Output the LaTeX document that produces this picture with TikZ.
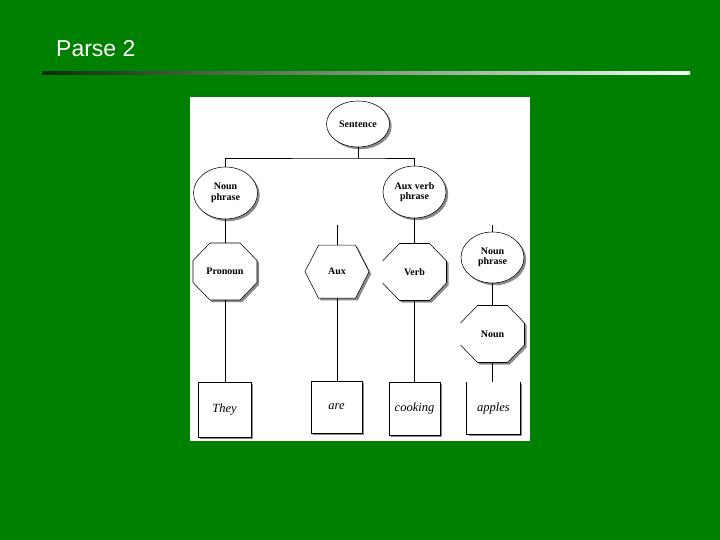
\documentclass[tikz,border=0pt]{standalone}
\usepackage{fontspec}
\setmainfont{Liberation Serif}
\newfontfamily\titlefont{Liberation Sans}
\usetikzlibrary{calc,shapes.geometric,shadows}
\definecolor{slidegreen}{HTML}{008000}
\definecolor{shadowgray}{HTML}{8A8A8A}
\definecolor{ruleleft}{HTML}{0A2E0A}
\definecolor{rulemid}{HTML}{7FA87F}
\definecolor{ruleright}{HTML}{F2FFF2}
\newcommand\octapath{(-15,-28.5) -- (15,-28.5) -- (32,-11) -- (32,11) -- (15,28.5) -- (-15,28.5) -- (-32,11) -- (-32,-11) -- cycle}
\newcommand\octaopen{(-32,-11) -- (-15,-28.5) -- (15,-28.5) -- (32,-11) -- (32,11) -- (15,28.5) -- (-15,28.5) -- (-32,11)}
\newcommand\hexapath{(-18.5,-26.5) -- (18.5,-26.5) -- (32,0) -- (18.5,26.5) -- (-18.5,26.5) -- (-32,0) -- cycle}
\begin{document}
\begin{tikzpicture}[x=1pt,y=-1pt]
\tikzset{
  lbl/.style={font=\bfseries\fontsize{10}{10.5}\selectfont, align=center, inner sep=0pt},
  shad/.style={drop shadow={shadow xshift=2.2pt, shadow yshift=-2.2pt, fill=shadowgray, opacity=1}},
  phr/.style={ellipse, draw, line width=0.55pt, fill=white, minimum width=63pt, minimum height=51pt, lbl, shad},
  slot/.style={minimum width=64pt, minimum height=57pt, lbl},
  leaf/.style={rectangle, line width=0.55pt, fill=white, minimum width=52pt, minimum height=53pt, inner sep=0pt, font=\itshape\fontsize{12.5}{14}\selectfont, shad},
  conn/.style={draw, line width=0.6pt},
  outline/.style={line width=0.55pt},
}
\useasboundingbox (0,0) rectangle (720,540);
\fill[slidegreen] (0,0) rectangle (720,540);
% title
\node[anchor=base west, text=white, inner sep=0pt, font=\titlefont\fontsize{23}{27}\selectfont] (title) at (56,57) {Parse 2};
\shade[left color=ruleleft, middle color=rulemid, right color=ruleright] (42,71.5) rectangle (690,74.5);
% panel
\fill[white] (190,97) rectangle (530,441);

% phrase ellipses
\node[phr, minimum height=46pt] (sent) at (358,124) {Sentence};
\node[phr, minimum width=64pt, minimum height=52pt] (np1) at (225.5,193) {Noun\\phrase};
\node[phr, minimum height=52pt] (avp) at (414.5,192) {Aux verb\\phrase};
\node[phr] (np2) at (492.5,257.5) {Noun\\phrase};

% octagon / hexagon shapes
\fill[shadowgray, shift={(227.2,273.7)}] \octapath;
\filldraw[outline, fill=white, shift={(225,271.5)}] \octapath;
\fill[shadowgray, shift={(339.2,273.9)}] \hexapath;
\filldraw[outline, fill=white, shift={(337,271.7)}] \hexapath;
\fill[shadowgray, shift={(416.7,274.2)}] \octapath;
\fill[white, shift={(414.5,272)}] \octapath;
\draw[outline, shift={(414.5,272)}] \octaopen;
\fill[shadowgray, shift={(494.7,336.2)}] \octapath;
\fill[white, shift={(492.5,334)}] \octapath;
\draw[outline, shift={(492.5,334)}] \octaopen;

\node[slot] (pron) at (225,271.5) {Pronoun};
\node[slot, minimum height=53pt] (aux) at (337,271.7) {Aux};
\node[slot] (verb) at (414.5,272) {Verb};
\node[slot] (noun) at (492.5,334) {Noun};

% leaves
\node[leaf, draw, minimum width=53pt, minimum height=55pt] (they) at (224.5,409.5) {They};
\node[leaf, draw, minimum width=51pt, minimum height=52pt] (are) at (336.5,407) {are};
\node[leaf, draw, minimum width=51pt, minimum height=53pt] (cook) at (414.5,408.5) {cooking};
\node[leaf, minimum width=53pt, minimum height=52pt] (apl) at (493.5,408) {apples};
\draw[outline] (apl.north west) -- (apl.south west) -- (apl.south east) -- (apl.north east);

% connectors
\coordinate (bar) at (358,158);
\coordinate (auxtop) at (337,225);
\coordinate (nptop) at (492.5,225);
\draw[conn] (sent.south) -- (bar);
\draw[conn] (np1.north) |- (bar) -| (avp.north);
\draw[conn] (np1.south) -- (np1.south |- pron.north);
\draw[conn] (avp.south) -- (avp.south |- verb.north);
\draw[conn] (auxtop) -- (aux.north);
\draw[conn] (nptop) -- (np2.north);
\draw[conn] (np2.south) -- (noun.north);
\draw[conn] (pron.south) -- (pron.south |- they.north);
\draw[conn] (aux.south) -- (aux.south |- are.north);
\draw[conn] (verb.south) -- (verb.south |- cook.north);
\draw[conn] (noun.south) -- (noun.south |- apl.north);
\end{tikzpicture}
\end{document}
